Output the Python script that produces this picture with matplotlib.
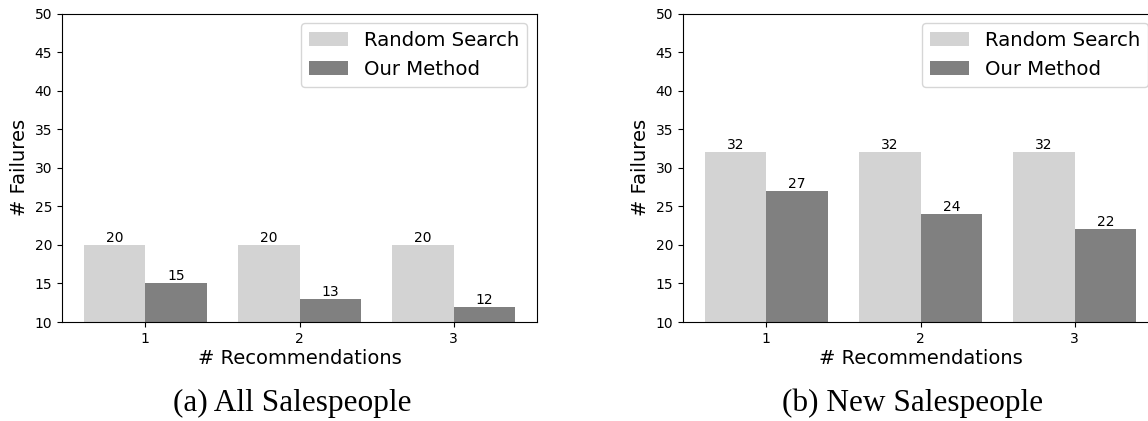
import matplotlib
matplotlib.use('Agg')
import matplotlib.pyplot as plt
import numpy as np

# number of recommendations on the x axis
recs = [1, 2, 3]

# failures, all salespeople
all_random = [20, 20, 20]
all_ours = [15, 13, 12]

# failures, new salespeople
new_random = [32, 32, 32]
new_ours = [27, 24, 22]

captions = ['(a) All Salespeople', '(b) New Salespeople']

fig = plt.figure(figsize=(11.48, 4.21), dpi=100)

# right panel runs off the canvas like in the original (it was cropped)
ax1 = fig.add_axes([62/1148, 99/421, 475/1148, 308.5/421])
ax2 = fig.add_axes([683/1148, 99/421, 475/1148, 308.5/421])

w = 0.4
x = np.array(recs)

for ax, rnd, ours in [(ax1, all_random, all_ours), (ax2, new_random, new_ours)]:
    b1 = ax.bar(x - w/2, rnd, w, color='lightgray', label='Random Search')
    b2 = ax.bar(x + w/2, ours, w, color='gray', label='Our Method')
    ax.bar_label(b1, fontsize=10)
    ax.bar_label(b2, fontsize=10)
    ax.set_ylim(10, 50)
    ax.set_xticks(recs)
    ax.tick_params(labelsize=10)
    ax.set_xlabel('# Recommendations', fontsize=14, labelpad=2)
    ax.set_ylabel('# Failures', fontsize=14)
    ax.legend(loc='upper right', fontsize=14.2)

# captions under each panel
fig.text((62 + 230)/1148, 10/421, captions[0], ha='center', va='baseline',
         fontsize=22.5, family='Liberation Serif')
fig.text((683 + 230)/1148, 10/421, captions[1], ha='center', va='baseline',
         fontsize=22.5, family='Liberation Serif')

fig.savefig('out.png', dpi=100)
